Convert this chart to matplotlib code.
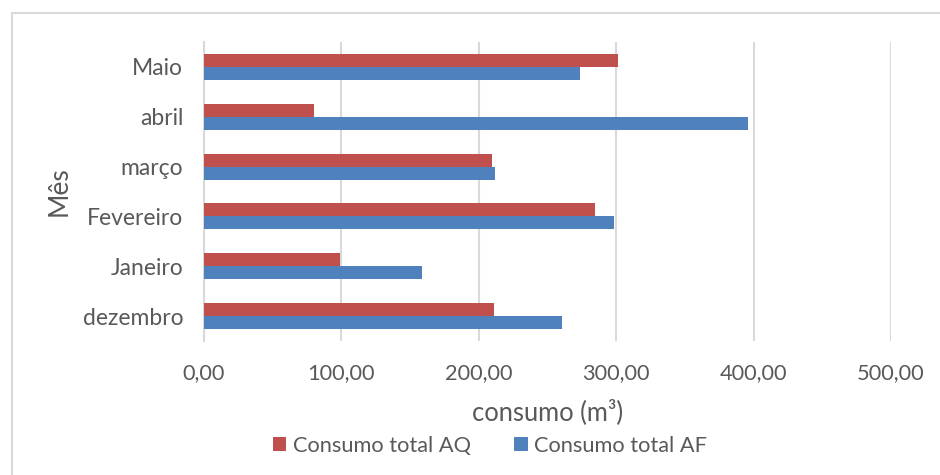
import matplotlib.pyplot as plt
import numpy as np
from matplotlib.patches import Rectangle
from matplotlib.ticker import FuncFormatter

plt.rcParams['font.family'] = ['Lato', 'DejaVu Sans']

# months from bottom to top, as drawn
meses = ['dezembro', 'Janeiro', 'Fevereiro', 'março', 'abril', 'Maio']
consumo_aq = [210.7, 98.7, 284.3, 209.9, 80.0, 301.3]
consumo_af = [260.4, 158.6, 298.5, 212.1, 396.1, 273.7]
x_ticks = [0, 100, 200, 300, 400, 500]

RED = '#C0504D'
BLUE = '#4F81BD'
TEXT = '#595959'
GRID = '#D9D9D9'


def plot_consumo():
    fig = plt.figure(figsize=(9.4, 4.75), dpi=100)
    ax = fig.add_axes([204 / 940, 1 - 341 / 475, (891 - 204) / 940, (341 - 42) / 475])

    y = np.arange(len(meses))
    h = 0.26
    ax.barh(y + h / 2, consumo_aq, height=h, color=RED, label='Consumo total AQ', zorder=3)
    ax.barh(y - h / 2, consumo_af, height=h, color=BLUE, label='Consumo total AF', zorder=3)

    ax.set_xlim(0, 500)
    ax.set_ylim(-0.5, len(meses) - 0.5)
    ax.set_xticks(x_ticks)
    ax.xaxis.set_major_formatter(FuncFormatter(lambda v, p: f'{v:.2f}'.replace('.', ',')))
    ax.set_yticks(y)
    ax.set_yticklabels(meses)

    ax.grid(axis='x', color=GRID, linewidth=1.5, zorder=0)
    for s in ['top', 'right', 'bottom']:
        ax.spines[s].set_visible(False)
    ax.spines['left'].set_color(GRID)
    ax.spines['left'].set_linewidth(1.5)
    ax.tick_params(axis='both', length=0, colors=TEXT)
    ax.tick_params(axis='x', pad=16, labelsize=15.7)
    ax.tick_params(axis='y', pad=15, labelsize=16.5)

    ax.set_xlabel('consumo (m³)', fontsize=18.4, color=TEXT, labelpad=11.5)
    ax.set_ylabel('Mês', fontsize=19, color=TEXT)
    ax.yaxis.set_label_coords((72 - 204) / 687, 0.5)

    fig.legend(loc='center', bbox_to_anchor=(490 / 940, 1 - 446 / 475), ncol=2,
               frameon=False, fontsize=15.7, labelcolor=TEXT, handlelength=0.62,
               handleheight=0.62, handletextpad=0.3, columnspacing=2.0)

    fig.patches.append(Rectangle((12 / 940, -0.1), 1.0, 1 - 13 / 475 + 0.1,
                                 transform=fig.transFigure, fill=False,
                                 edgecolor=GRID, linewidth=1.5))

    fig.savefig('out.png', dpi=100)


if __name__ == '__main__':
    plot_consumo()
